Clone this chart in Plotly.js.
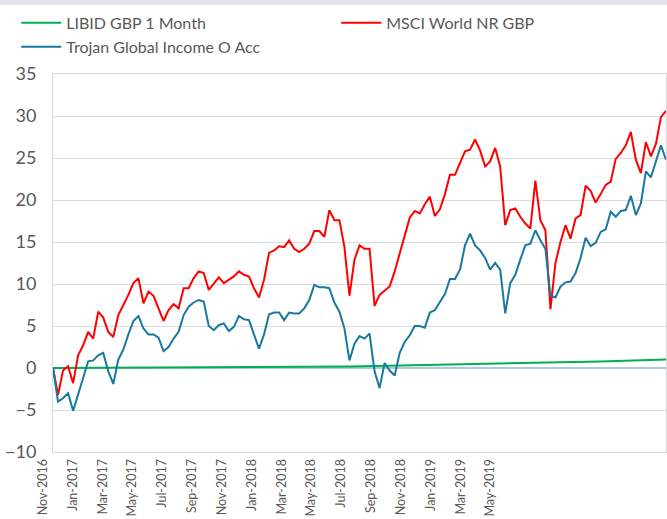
<!DOCTYPE html>
<html>
<head>
<meta charset="utf-8">
<script src="https://cdn.plot.ly/plotly-3.0.1.min.js"></script>
<style>
  html, body { margin: 0; padding: 0; background: #ffffff; }
  #wrap { position: relative; width: 667px; height: 519px; }
  #band { position: absolute; left: 0; top: 0; width: 667px; height: 5px; background: #e0e3e7; z-index: 5; }
  #chart { position: absolute; left: 0; top: 0; width: 667px; height: 519px; }
</style>
</head>
<body>
<div id="wrap"><div id="band"></div><div id="chart"></div></div>
<script>
// Sampling grid: one observation every 8 days from 1 Nov 2016
const startDate = '2016-11-01';
const endDate = '2019-07-05';
const stepDays = 8;

const msciValues = [
  0, -3.2, -0.3, 0.2, -1.8, 1.5, 2.7, 4.3, 3.5, 6.7, 6.0, 4.3, 3.7, 6.3, 7.5, 8.7, 10.1, 10.7, 7.7, 9.1, 8.6, 7.1, 5.6, 6.9, 7.6,
  7.1, 9.5, 9.5, 10.7, 11.5, 11.3, 9.3, 10.1, 10.8, 10.1, 10.5, 10.9, 11.5, 11.1, 10.9, 9.5, 8.4, 10.5, 13.7, 14.0, 14.5, 14.4, 15.2, 14.2,
  13.8, 14.2, 14.8, 16.3, 16.3, 15.6, 18.8, 17.6, 17.6, 14.4, 8.6, 12.9, 14.6, 14.2, 14.2, 7.4, 8.7, 9.2, 9.7, 11.5, 13.7, 15.8, 17.9, 18.7,
  18.4, 19.5, 20.4, 18.1, 18.9, 20.7, 23.0, 23.0, 24.4, 25.8, 26.0, 27.2, 25.9, 24.0, 24.6, 26.2, 24.0, 17.0, 18.8, 19.0, 18.0, 17.2, 16.6, 22.3, 17.6,
  16.4, 7.0, 12.5, 15.0, 17.0, 15.4, 17.8, 18.2, 21.7, 21.1, 19.7, 20.7, 21.8, 22.2, 24.9, 25.6, 26.5, 28.1, 24.8, 23.2, 26.9, 25.2, 26.7, 29.9, 30.6
];

const trojanValues = [
  0, -4.0, -3.6, -3.0, -5.1, -3.0, -1.2, 0.8, 0.9, 1.5, 1.8, -0.4, -1.9, 1.0, 2.2, 4.0, 5.6, 6.2, 4.7, 4.0, 4.0, 3.6, 2.0, 2.5, 3.5,
  4.3, 6.3, 7.3, 7.8, 8.1, 7.9, 5.0, 4.5, 5.1, 5.3, 4.4, 4.9, 6.2, 5.8, 5.7, 4.0, 2.3, 4.0, 6.4, 6.6, 6.6, 5.7, 6.6, 6.5,
  6.5, 7.1, 8.1, 9.9, 9.6, 9.6, 9.5, 7.8, 6.7, 4.7, 0.9, 2.9, 3.8, 3.5, 4.1, -0.4, -2.4, 0.6, -0.3, -0.9, 1.8, 3.1, 3.9, 5.0,
  5.0, 4.8, 6.6, 6.9, 7.8, 8.8, 10.6, 10.6, 11.7, 14.6, 16.0, 14.6, 14.0, 13.1, 11.7, 12.5, 11.7, 6.5, 10.1, 11.1, 12.9, 14.6, 14.8, 16.4, 15.2,
  14.2, 8.6, 8.4, 9.7, 10.2, 10.3, 11.3, 13.1, 15.5, 14.5, 14.9, 16.2, 16.5, 18.6, 18.0, 18.7, 18.8, 20.5, 18.2, 19.6, 23.4, 22.7, 24.6, 26.5, 24.8
];

const libidDates = ['2016-11-01', '2017-05-14', '2017-11-21', '2018-02-17', '2018-05-28', '2018-08-27', '2018-12-16', '2019-03-22', '2019-07-05'];
const libidValues = [0, 0.04, 0.1, 0.18, 0.33, 0.45, 0.62, 0.78, 1.0];

const tickLabels = ['Nov-2016', 'Jan-2017', 'Mar-2017', 'May-2017', 'Jul-2017', 'Sep-2017', 'Nov-2017', 'Jan-2018',
  'Mar-2018', 'May-2018', 'Jul-2018', 'Sep-2018', 'Nov-2018', 'Jan-2019', 'Mar-2019', 'May-2019'];

const seriesNames = ['LIBID GBP 1 Month', 'MSCI World NR GBP', 'Trojan Global Income O Acc'];
const seriesColors = ['#00b050', '#ff0000', '#1878a0'];

const DAY = 86400000;
const t0 = Date.parse(startDate + 'T00:00:00Z');
function iso(ms) { return new Date(ms).toISOString().slice(0, 10); }
const dates = msciValues.map((_, i) => iso(t0 + i * stepDays * DAY));
// category-style label spacing of the original chart (labels every ~47.5 days)
const tickVals = tickLabels.map((_, i) => iso(t0 + Math.round(i * 47.48) * DAY));

const FONT = 'Lato, "Open Sans", sans-serif';
const traces = [
  { x: libidDates, y: libidValues, name: seriesNames[0], type: 'scatter', mode: 'lines',
    line: { color: seriesColors[0], width: 2 } },
  { x: dates, y: msciValues, name: seriesNames[1], type: 'scatter', mode: 'lines',
    line: { color: seriesColors[1], width: 2 } },
  { x: dates, y: trojanValues, name: seriesNames[2], type: 'scatter', mode: 'lines',
    line: { color: seriesColors[2], width: 2 } }
];

const layout = {
  width: 667, height: 519,
  margin: { l: 53, r: 1, t: 74, b: 67, pad: 0 },
  paper_bgcolor: '#ffffff', plot_bgcolor: '#ffffff',
  font: { family: FONT, color: '#595959' },
  showlegend: true,
  legend: {
    orientation: 'h', x: -0.06, xanchor: 'left', y: 1.18, yanchor: 'top',
    entrywidth: 265, entrywidthmode: 'pixels', itemwidth: 40,
    font: { family: FONT, size: 16, color: '#595959' }, bgcolor: 'rgba(0,0,0,0)'
  },
  xaxis: {
    type: 'date', range: [startDate, endDate],
    tickmode: 'array', tickvals: tickVals, ticktext: tickLabels,
    tickangle: -90, tickfont: { family: FONT, size: 12.5, color: '#595959' },
    ticks: '', showgrid: false, zeroline: false,
    showline: true, linecolor: '#d9d9d9', linewidth: 1, mirror: true,
    ticklabelshift: -10, ticklabelstandoff: 1
  },
  yaxis: {
    range: [-10, 35], tick0: 0, dtick: 5,
    tickfont: { family: FONT, size: 18, color: '#595959' },
    ticks: '', showgrid: true, gridcolor: '#dcdcdc', gridwidth: 1,
    zeroline: true, zerolinecolor: '#a9cbe2', zerolinewidth: 2,
    showline: true, linecolor: '#d9d9d9', linewidth: 1, mirror: true,
    ticklabelstandoff: 12
  }
};

Plotly.newPlot('chart', traces, layout, { displayModeBar: false, staticPlot: true });
</script>
</body>
</html>
